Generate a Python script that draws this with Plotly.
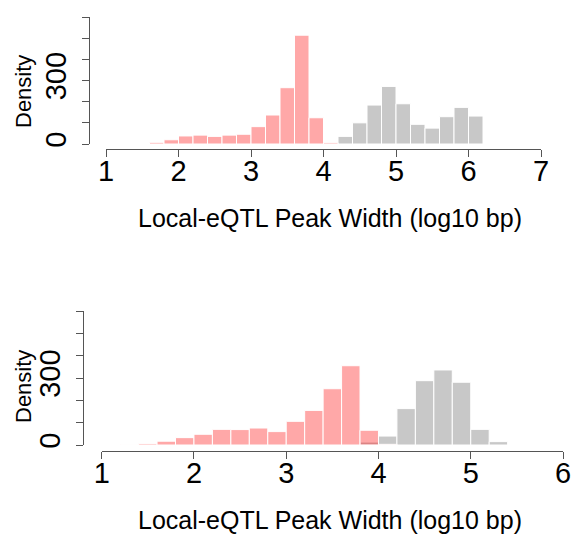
import plotly.graph_objects as go

W, H = 575, 535
BIN = 0.2

# ---- data ----
top_red_start = [1.6, 1.8, 2.0, 2.2, 2.4, 2.6, 2.8, 3.0, 3.2, 3.4, 3.6, 3.8, 4.0]
top_red_vals = [8, 20, 38, 42, 36, 42, 46, 82, 137, 266, 514, 124, 6]
top_grey_start = [4.0, 4.2, 4.4, 4.6, 4.8, 5.0, 5.2, 5.4, 5.6, 5.8, 6.0]
top_grey_vals = [3, 36, 100, 184, 272, 190, 93, 75, 129, 173, 132]

bot_red_start = [1.2, 1.4, 1.6, 1.8, 2.0, 2.2, 2.4, 2.6, 2.8, 3.0, 3.2, 3.4, 3.6, 3.8, 4.0]
bot_red_vals = [2, 6, 17, 33, 48, 70, 69, 76, 60, 106, 155, 252, 355, 66, 3]
bot_grey_start = [3.8, 4.0, 4.2, 4.4, 4.6, 4.8, 5.0, 5.2]
bot_grey_vals = [13, 40, 163, 288, 336, 281, 70, 15]

y_ticks = [0, 100, 200, 300, 400, 500, 600]
y_ticktext = ["0", "", "", "300", "", "", ""]
top_x_ticks = [1, 2, 3, 4, 5, 6, 7]
bot_x_ticks = [1, 2, 3, 4, 5, 6]
x_title = "Local-eQTL Peak Width (log10 bp)"
y_title = "Density"

RED = "rgba(255,0,0,0.34)"
GREY = "rgb(200,200,200)"
FONT = "Liberation Sans, Arial, Helvetica, sans-serif"
AXC = "#555555"


def fx(px):
    return px / W


def fy(py):
    return 1 - py / H


fig = go.Figure()


def add_bars(starts, vals, color, xa, ya):
    fig.add_trace(go.Bar(
        x=starts, y=vals, width=BIN, offset=0,
        marker=dict(color=color, line=dict(color="white", width=1)),
        xaxis=xa, yaxis=ya, showlegend=False, hoverinfo="skip"))


add_bars(top_grey_start, top_grey_vals, GREY, "x", "y")
add_bars(top_red_start, top_red_vals, RED, "x", "y")
add_bars(bot_grey_start, bot_grey_vals, GREY, "x2", "y2")
add_bars(bot_red_start, bot_red_vals, RED, "x2", "y2")

tickfont = dict(family=FONT, size=29, color="black")


def xaxis(domain, rng, ticks, pos):
    return dict(domain=domain, range=rng, tickvals=ticks, ticktext=[str(t) for t in ticks],
                showline=True, linecolor=AXC, linewidth=1, ticks="outside", ticklen=7,
                tickcolor=AXC, tickwidth=1, showgrid=False, zeroline=False,
                anchor="free", position=pos, tickfont=tickfont, fixedrange=True,
                automargin=False, ticklabelstandoff=-11)


def yaxis(domain, pos):
    return dict(domain=domain, range=[0, 600], tickvals=y_ticks, ticktext=y_ticktext,
                tickangle=-90, showline=True, linecolor=AXC, linewidth=1, ticks="outside",
                ticklen=7, tickcolor=AXC, tickwidth=1, showgrid=False, zeroline=False,
                anchor="free", position=pos, tickfont=tickfont, fixedrange=True,
                automargin=False, ticklabelstandoff=4)


fig.update_layout(
    template="none",
    width=W, height=H, autosize=False,
    margin=dict(l=0, r=0, t=0, b=0, pad=0),
    paper_bgcolor="white", plot_bgcolor="white",
    barmode="overlay", bargap=0,
    xaxis=xaxis([fx(106), fx(541)], [1, 7], top_x_ticks, fy(149)),
    yaxis=yaxis([fy(144), fy(17)], fx(89)),
    xaxis2=xaxis([fx(101.7), fx(563)], [1, 6], bot_x_ticks, fy(450.7)),
    yaxis2=yaxis([fy(445), fy(311)], fx(82.7)),
)

fig.add_annotation(text=x_title, x=fx(330), y=fy(218), xref="paper", yref="paper",
                   showarrow=False, xanchor="center", yanchor="middle",
                   font=dict(family=FONT, size=25, color="black"))
fig.add_annotation(text=x_title, x=fx(330), y=fy(520), xref="paper", yref="paper",
                   showarrow=False, xanchor="center", yanchor="middle",
                   font=dict(family=FONT, size=25, color="black"))
fig.add_annotation(text=y_title, x=fx(23), y=fy(92), xref="paper", yref="paper",
                   showarrow=False, xanchor="center", yanchor="middle", textangle=-90,
                   font=dict(family=FONT, size=22, color="black"))
fig.add_annotation(text=y_title, x=fx(23), y=fy(387), xref="paper", yref="paper",
                   showarrow=False, xanchor="center", yanchor="middle", textangle=-90,
                   font=dict(family=FONT, size=22, color="black"))

fig.write_html("out.html", config={"displayModeBar": False, "staticPlot": True},
               post_script="document.body.style.margin='0';document.body.style.overflow='hidden';")
